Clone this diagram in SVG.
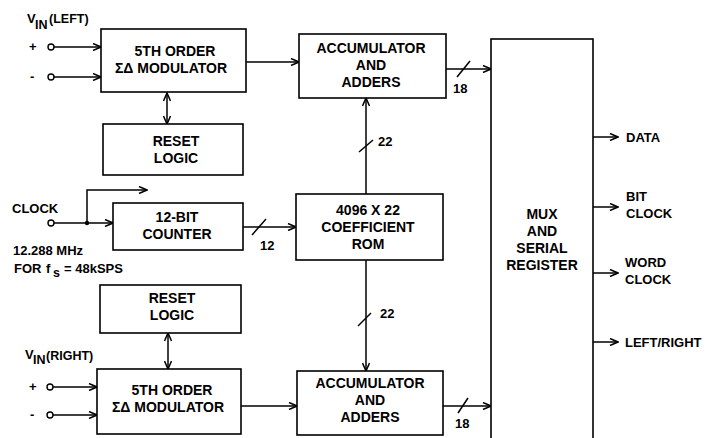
<svg xmlns="http://www.w3.org/2000/svg" width="719" height="438" viewBox="0 0 719 438">
<defs>
<marker id="ah" markerWidth="10" markerHeight="8" refX="9" refY="4" orient="auto" markerUnits="userSpaceOnUse">
<path d="M1,0.5 L9,4 L1,7.5" fill="none" stroke="#000" stroke-width="1.5"/>
</marker>
<marker id="as" markerWidth="10" markerHeight="8" refX="1" refY="4" orient="auto" markerUnits="userSpaceOnUse">
<path d="M9,0.5 L1,4 L9,7.5" fill="none" stroke="#000" stroke-width="1.5"/>
</marker>
<style>
.box{fill:#fff;stroke:#000;stroke-width:1.6}
.t{font-family:"Liberation Sans",Arial,sans-serif;font-weight:bold;font-size:14px;fill:#000;text-anchor:middle}
.l{font-family:"Liberation Sans",Arial,sans-serif;font-weight:bold;font-size:13px;fill:#000}
.s{font-family:"Liberation Sans",Arial,sans-serif;font-weight:bold;font-size:12.5px;fill:#000}
.w{fill:none;stroke:#000;stroke-width:1.5}
.a{marker-end:url(#ah)}
.b{marker-end:url(#ah);marker-start:url(#as)}
.pin{fill:#fff;stroke:#000;stroke-width:1.4}
</style>
</defs>
<rect width="719" height="438" fill="#fff"/>

<g id="connectors">
<line class="w a" x1="54" y1="47" x2="101" y2="47"/>
<line class="w a" x1="54" y1="77" x2="101" y2="77"/>
<line class="w b" x1="167" y1="93" x2="167" y2="124"/>
<line class="w a" x1="246" y1="62" x2="299" y2="62"/>
<line class="w a" x1="446" y1="69" x2="491" y2="69"/>
<line class="w" x1="457" y1="77" x2="470" y2="61"/>
<line class="w a" x1="366" y1="194" x2="366" y2="98"/>
<line class="w" x1="359" y1="152" x2="373" y2="140"/>
<line class="w a" x1="54" y1="223" x2="113" y2="223"/>
<polyline class="w a" points="87,223 87,190 147,190"/>
<circle cx="87" cy="223" r="2.2" fill="#000"/>
<line class="w a" x1="243" y1="227" x2="296" y2="227"/>
<line class="w" x1="252" y1="235" x2="266" y2="219"/>
<line class="w a" x1="366" y1="260" x2="366" y2="371"/>
<line class="w" x1="358" y1="326" x2="371" y2="313"/>
<line class="w b" x1="168" y1="333" x2="168" y2="369"/>
<line class="w a" x1="53" y1="387" x2="97" y2="387"/>
<line class="w a" x1="53" y1="415" x2="97" y2="415"/>
<line class="w a" x1="241" y1="406" x2="297" y2="406"/>
<line class="w a" x1="443" y1="406" x2="491" y2="406"/>
<line class="w" x1="458" y1="413" x2="468" y2="398"/>
<line class="w a" x1="593" y1="137" x2="618" y2="137"/>
<line class="w a" x1="593" y1="207" x2="618" y2="207"/>
<line class="w a" x1="593" y1="273" x2="618" y2="273"/>
<line class="w a" x1="593" y1="342" x2="618" y2="342"/>
</g>

<g id="vin-left">
<text class="l" x="27" y="23">V</text>
<text class="s" x="35" y="29">IN</text>
<text class="s" x="49" y="23">(LEFT)</text>
<text class="l" x="29" y="51">+</text>
<text class="l" x="30" y="81">-</text>
<circle class="pin" cx="51" cy="47" r="3"/>
<circle class="pin" cx="51" cy="77" r="3"/>
</g>

<g id="mod-left">
<rect class="box" x="101" y="29" width="145" height="63"/>
<text class="t" x="175" y="56">5TH ORDER</text>
<text class="t" x="171" y="73">ΣΔ MODULATOR</text>
</g>

<g id="reset-left">
<rect class="box" x="103" y="124" width="140" height="51"/>
<text class="t" x="176" y="146">RESET</text>
<text class="t" x="176" y="163">LOGIC</text>
</g>

<g id="acc-top">
<rect class="box" x="299" y="34" width="147" height="64"/>
<text class="t" x="371" y="53">ACCUMULATOR</text>
<text class="t" x="371" y="70">AND</text>
<text class="t" x="371" y="87">ADDERS</text>
<text class="l" x="453" y="93">18</text>
</g>

<g id="label-22-top">
<text class="l" x="378" y="146">22</text>
</g>

<g id="clock">
<text class="l" x="12" y="213">CLOCK</text>
<circle class="pin" cx="51" cy="223" r="3"/>
<text class="l" x="13" y="255">12.288 MHz</text>
<text class="l" x="14" y="273">FOR</text>
<text class="l" x="46" y="273">f</text>
<text class="s" x="53" y="277">s</text>
<text class="l" x="64" y="273">= 48kSPS</text>
</g>

<g id="counter">
<rect class="box" x="113" y="203" width="130" height="47"/>
<text class="t" x="177" y="222">12-BIT</text>
<text class="t" x="177" y="239">COUNTER</text>
<text class="l" x="260" y="250">12</text>
</g>

<g id="rom">
<rect class="box" x="296" y="194" width="147" height="66"/>
<text class="t" x="368" y="215">4096 X 22</text>
<text class="t" x="368" y="232">COEFFICIENT</text>
<text class="t" x="368" y="249">ROM</text>
</g>

<g id="label-22-bottom">
<text class="l" x="380" y="318">22</text>
</g>

<g id="reset-right">
<rect class="box" x="100" y="285" width="141" height="48"/>
<text class="t" x="172" y="303">RESET</text>
<text class="t" x="172" y="320">LOGIC</text>
</g>

<g id="vin-right">
<text class="l" x="25" y="359">V</text>
<text class="s" x="33" y="364">IN</text>
<text class="s" x="46" y="360">(RIGHT)</text>
<text class="l" x="29" y="391">+</text>
<text class="l" x="30" y="419">-</text>
<circle class="pin" cx="50" cy="387" r="3"/>
<circle class="pin" cx="50" cy="415" r="3"/>
</g>

<g id="mod-right">
<rect class="box" x="97" y="369" width="144" height="65"/>
<text class="t" x="172" y="395">5TH ORDER</text>
<text class="t" x="168" y="412">ΣΔ MODULATOR</text>
</g>

<g id="acc-bottom">
<rect class="box" x="297" y="371" width="146" height="64"/>
<text class="t" x="370" y="388">ACCUMULATOR</text>
<text class="t" x="370" y="405">AND</text>
<text class="t" x="370" y="422">ADDERS</text>
<text class="l" x="455" y="428">18</text>
</g>

<g id="mux">
<rect class="box" x="491" y="39" width="102" height="410"/>
<text class="t" x="542" y="219">MUX</text>
<text class="t" x="542" y="236">AND</text>
<text class="t" x="542" y="253">SERIAL</text>
<text class="t" x="542" y="270">REGISTER</text>
</g>

<g id="outputs">
<text class="l" x="626" y="142">DATA</text>
<text class="l" x="626" y="201">BIT</text>
<text class="l" x="626" y="218">CLOCK</text>
<text class="l" x="625" y="267">WORD</text>
<text class="l" x="625" y="284">CLOCK</text>
<text class="l" x="625" y="347">LEFT/RIGHT</text>
</g>
</svg>
